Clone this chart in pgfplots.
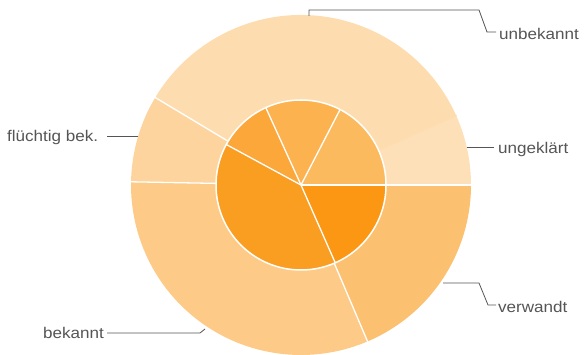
\documentclass[border=0pt]{standalone}
\usepackage{pgfplots}
\pgfplotsset{compat=1.18}
\usepackage{fontspec}
\setmainfont{Liberation Sans}
\definecolor{oUng}{HTML}{FEE0B8}
\definecolor{oUnb}{HTML}{FDDDB0}
\definecolor{oFl}{HTML}{FDD49E}
\definecolor{oBek}{HTML}{FDCB87}
\definecolor{oVer}{HTML}{FCC170}
\definecolor{iUng}{HTML}{FCBA5E}
\definecolor{iUnb}{HTML}{FCB24F}
\definecolor{iFl}{HTML}{FBA73A}
\definecolor{iBek}{HTML}{FA9E22}
\definecolor{iVer}{HTML}{FB9712}
\definecolor{lbl}{HTML}{555555}
% outer ring: value (percent) / fill / separator colour at its start
\def\outerdata{6.7/oUng/white, 34.7/oUnb/oUnb, 8.3/oFl/white, 31.7/oBek/white, 18.6/oVer/white}
% inner pie
\def\innerdata{17.4/iUng/white, 14.4/iUnb/white, 10.3/iFl/white, 39.5/iBek/white, 18.4/iVer/white}
\newcommand\lab[1]{\fontsize{15.5}{18}\selectfont\scalebox{1.1}[1]{#1}}
\begin{document}
\begin{tikzpicture}
\begin{axis}[hide axis, x=1pt, y=1pt, xmin=0, xmax=585, ymin=0, ymax=355,
  clip=false, scale only axis]
\addplot[draw=none, forget plot] coordinates {(0,0) (585,355)};
\pgfplotsextra{
  \begin{scope}[shift={(axis cs:301,170)}]
  % outer ring
  \gdef\cum{0}
  \foreach \v/\c/\s in \outerdata {
    \pgfmathsetmacro\a{\cum*3.6}
    \pgfmathsetmacro\b{(\cum+\v)*3.6}
    \fill[\c] (\a:170) arc[start angle=\a, end angle=\b, radius=170]
      -- (\b:85) arc[start angle=\b, end angle=\a, radius=85] -- cycle;
    \pgfmathsetmacro\n{\cum+\v}\xdef\cum{\n}
  }
  \gdef\cum{0}
  \foreach \v/\c/\s in \outerdata {
    \pgfmathsetmacro\a{\cum*3.6}
    \draw[\s, line width=1.3pt] (\a:85) -- (\a:170.5);
    \pgfmathsetmacro\n{\cum+\v}\xdef\cum{\n}
  }
  % inner pie
  \gdef\cum{0}
  \foreach \v/\c/\s in \innerdata {
    \pgfmathsetmacro\a{\cum*3.6}
    \pgfmathsetmacro\b{(\cum+\v)*3.6}
    \fill[\c] (0,0) -- (\a:85) arc[start angle=\a, end angle=\b, radius=85] -- cycle;
    \pgfmathsetmacro\n{\cum+\v}\xdef\cum{\n}
  }
  \gdef\cum{0}
  \foreach \v/\c/\s in \innerdata {
    \pgfmathsetmacro\a{\cum*3.6}
    \draw[\s, line width=1.3pt] (0,0) -- (\a:85);
    \pgfmathsetmacro\n{\cum+\v}\xdef\cum{\n}
  }
  \draw[white, line width=1.5pt] (0,0) circle[radius=85];
  \end{scope}
  % leader lines
  \draw[lbl, line width=0.8pt] (axis cs:309,339) -- (axis cs:309,345) -- (axis cs:479,345) -- (axis cs:487,323) -- (axis cs:496,323);
  \draw[lbl, line width=0.8pt] (axis cs:467,208) -- (axis cs:494,208);
  \draw[lbl, line width=0.8pt] (axis cs:443,72) -- (axis cs:479,72) -- (axis cs:488,50) -- (axis cs:496,50);
  \draw[lbl, line width=0.8pt] (axis cs:107,219) -- (axis cs:138,219);
  \draw[lbl, line width=0.8pt] (axis cs:107,22) -- (axis cs:200,22) -- (axis cs:205,26);
  % labels
  \node[anchor=base west, inner sep=0pt, text=lbl] at (axis cs:499,315) {\lab{unbekannt}};
  \node[anchor=base west, inner sep=0pt, text=lbl] at (axis cs:498,201) {\lab{ungeklärt}};
  \node[anchor=base west, inner sep=0pt, text=lbl] at (axis cs:498,42) {\lab{verwandt}};
  \node[anchor=base west, inner sep=0pt, text=lbl] at (axis cs:7,213) {\lab{flüchtig bek.}};
  \node[anchor=base west, inner sep=0pt, text=lbl] at (axis cs:43,16) {\lab{bekannt}};
}
\end{axis}
\pgfresetboundingbox
\path[use as bounding box] (current axis.south west) rectangle (current axis.north east);
\end{tikzpicture}
\end{document}
